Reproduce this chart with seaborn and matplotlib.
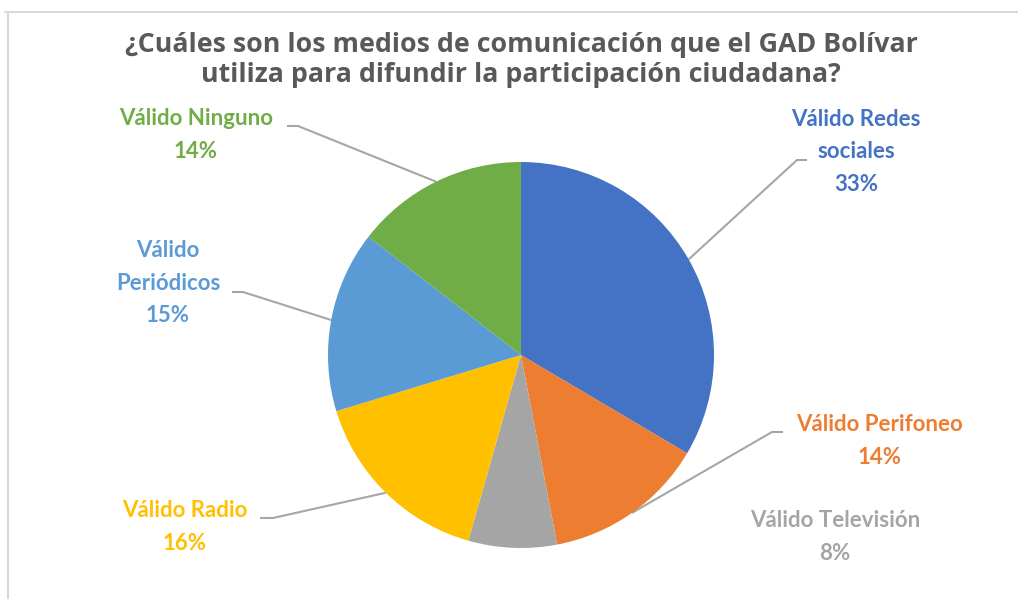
import numpy as np
import matplotlib
matplotlib.use("Agg")
import matplotlib.pyplot as plt
import seaborn as sns

# Datos (porcentaje de cada medio)
categorias = ["Válido Redes\nsociales", "Válido Perifoneo", "Válido Televisión",
              "Válido Radio", "Válido\nPeriódicos", "Válido Ninguno"]
valores = [33.5, 13.5, 7.4, 15.9, 15.2, 14.5]
etiquetas_pct = ["33%", "14%", "8%", "16%", "15%", "14%"]
colores = ["#4472C4", "#ED7D31", "#A5A5A5", "#FFC000", "#5B9BD5", "#70AD47"]

titulo = "¿Cuáles son los medios de comunicación que el GAD Bolívar\nutiliza para difundir la participación ciudadana?"

sns.set_style("white")
plt.rcParams['font.family'] = ['Lato', 'DejaVu Sans']

W, H = 1018, 599
CX, CY, R = 521, 355, 193

fig = plt.figure(figsize=(W / 100, H / 100), dpi=100)
ax = fig.add_axes([0, 0, 1, 1])


def px(x, y):
    # pixel de la imagen -> coordenadas de datos
    return (x - CX) / R, (CY - y) / R


wedges, _ = ax.pie(valores, colors=colores, startangle=90, counterclock=False,
                   radius=1, center=(0, 0), wedgeprops=dict(linewidth=0))
ax.set_xlim(-CX / R, (W - CX) / R)
ax.set_ylim(-(H - CY) / R, CY / R)
ax.set_aspect("equal")
ax.axis("off")

# posiciones de las etiquetas (centro del texto) y de la cola horizontal de la guía
pos_texto = [(856, 152), (880, 441), (835, 537), (185, 527), (168, 283), (196, 135)]
cola = [((807, 160), (797, 160)), ((783, 432), (772, 432)), None,
        ((260, 518), (273, 518)), ((232, 292), (243, 292)), ((287, 126), (298, 126))]

for w, cat, pct, col, pt, c in zip(wedges, categorias, etiquetas_pct, colores, pos_texto, cola):
    tx, ty = px(*pt)
    ax.text(tx, ty, f"{cat}\n{pct}", color=col, fontsize=16, fontweight="bold",
            ha="center", va="center", linespacing=1.68)
    if c is not None:
        ang = np.deg2rad((w.theta1 + w.theta2) / 2)
        ex, ey = np.cos(ang), np.sin(ang)
        x0, y0 = px(*c[0])
        x1, y1 = px(*c[1])
        ax.plot([x0, x1, ex], [y0, y1, ey], color="#A6A6A6", lw=1.5,
                solid_capstyle="butt", zorder=0)

fig.text(CX / W, 1 - 60 / H, titulo, ha="center", va="center", fontsize=19.3,
         fontweight="bold", color="#595959", linespacing=1.2,
         family=["Open Sans", "DejaVu Sans"])

# marco del gráfico
fig.add_artist(plt.Line2D([5 / W, 1], [1 - 12 / H, 1 - 12 / H], color="#D9D9D9", lw=1.5))
fig.add_artist(plt.Line2D([8 / W, 8 / W], [0, 1 - 12 / H], color="#D9D9D9", lw=1.5))

fig.savefig("out.png", dpi=100)
